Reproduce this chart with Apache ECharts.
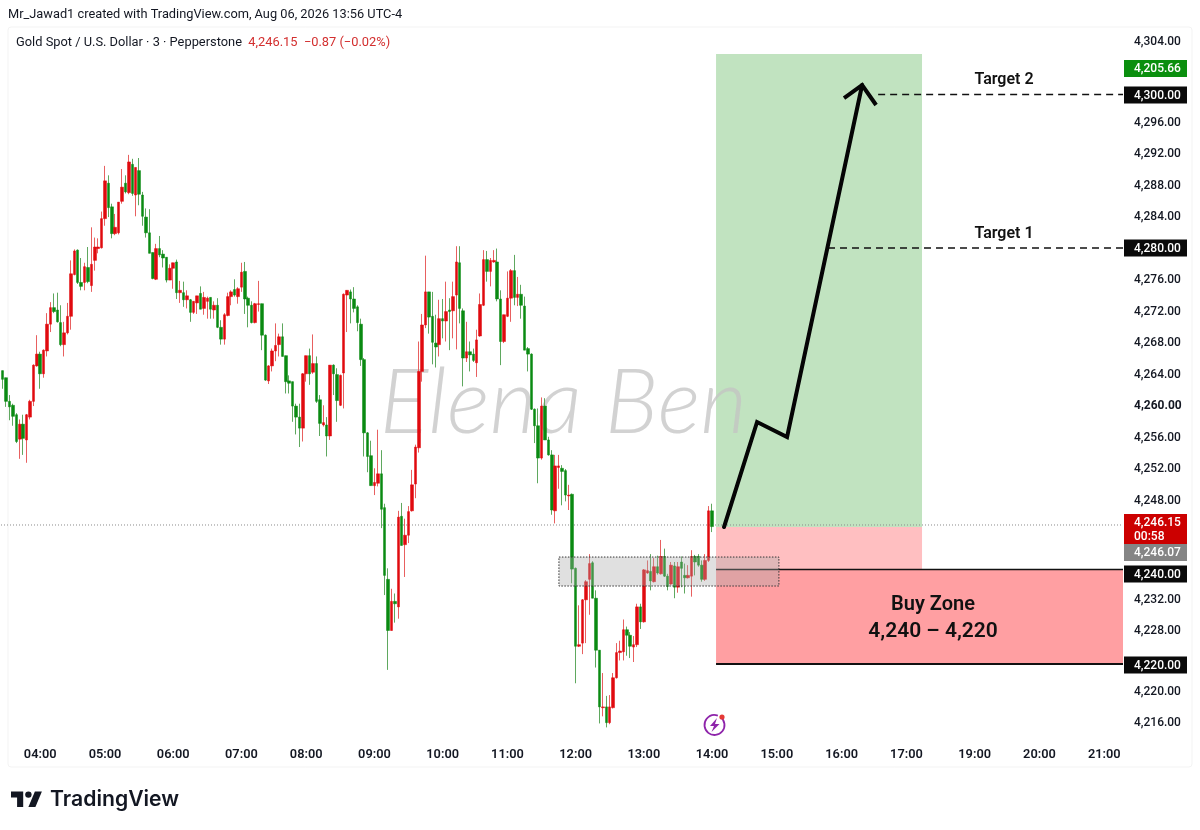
<!DOCTYPE html>
<html><head><meta charset="utf-8">
<style>html,body{margin:0;padding:0;background:#fff}#c{width:1200px;height:830px}</style>
<script src="https://cdn.jsdelivr.net/npm/echarts@6/dist/echarts.min.js"></script>
</head><body><div id="c"></div>
<script>
// 3-minute gold candles
const opens=[4264.3,4263.4,4260.4,4259.9,4258.7,4255.6,4257.5,4255.5,4258.4,4260.4,
4264.9,4266.4,4263.9,4266.8,4270.2,4272.3,4272.0,4270.4,4267.6,4269.1,
4271.2,4276.5,4279.6,4275.5,4275.5,4277.4,4275.1,4278.3,4279.8,4279.9,
4283.6,4288.1,4285.1,4281.7,4281.8,4285.8,4288.1,4286.9,4290.5,4286.6,
4289.7,4286.6,4283.8,4281.8,4279.3,4275.9,4279.8,4279.1,4278.7,4275.8,
4277.3,4278.1,4274.2,4274.2,4273.3,4273.3,4271.7,4272.9,4274.1,4272.2,
4273.1,4273.6,4272.0,4272.6,4269.8,4268.3,4271.3,4273.7,4274.6,4273.7,
4274.9,4276.9,4273.5,4272.6,4270.4,4272.7,4272.8,4268.8,4263.0,4264.9,
4266.8,4267.6,4268.6,4266.2,4263.0,4262.9,4259.8,4258.4,4257.0,4263.9,
4266.2,4264.1,4265.2,4260.6,4257.4,4257.4,4256.0,4265.0,4263.8,4259.9,
4264.0,4273.9,4274.3,4273.4,4272.4,4270.2,4265.7,4256.4,4253.5,4249.7,
4250.0,4251.2,4246.9,4237.8,4231.3,4235.0,4234.3,4245.8,4242.2,4243.4,
4246.5,4249.9,4254.5,4264.2,4270.1,4274.3,4271.2,4267.8,4267.6,4270.9,
4270.6,4272.0,4271.9,4273.9,4278.0,4271.9,4265.9,4266.7,4266.4,4265.3,
4268.7,4272.6,4278.4,4276.9,4278.1,4278.1,4273.4,4268.0,4271.2,4273.5,
4277.0,4273.6,4274.0,4272.5,4267.1,4266.4,4259.4,4257.3,4253.2,4259.8,
4255.5,4253.6,4246.5,4252.0,4251.9,4251.6,4248.4,4248.6,4239.2,4229.3,
4229.7,4235.2,4237.8,4239.9,4235.4,4228.8,4221.5,4221.6,4219.6,4221.5,
4225.3,4228.5,4228.6,4231.4,4230.7,4229.2,4229.5,4234.3,4232.4,4238.6,
4238.8,4237.5,4239.4,4238.5,4240.7,4238.2,4237.2,4239.5,4236.8,4240.0,
4238.3,4238.0,4238.2,4240.7,4240.7,4239.6,4237.8,4240.2,4246.5];
const highs=[4264.3,4263.4,4261.2,4260.1,4258.9,4258.1,4258.7,4258.8,4260.6,4265.1,
4268.8,4266.7,4267.0,4271.6,4273.0,4274.1,4274.2,4272.6,4270.5,4272.9,
4278.3,4279.7,4279.7,4278.6,4278.0,4280.0,4282.5,4281.2,4281.1,4284.5,
4290.3,4289.1,4285.5,4284.2,4285.7,4289.9,4289.1,4291.7,4291.2,4290.1,
4291.3,4287.0,4284.9,4284.8,4279.3,4280.4,4281.4,4279.6,4278.7,4277.8,
4278.0,4278.4,4275.7,4275.6,4274.5,4273.4,4273.1,4273.8,4275.0,4274.3,
4273.7,4273.6,4273.1,4273.5,4270.7,4271.6,4274.2,4274.5,4275.9,4274.9,
4278.0,4278.1,4273.7,4273.1,4272.9,4275.7,4272.8,4268.9,4265.0,4267.1,
4270.3,4269.0,4270.3,4266.2,4263.7,4262.9,4260.1,4260.1,4264.0,4266.2,
4267.1,4268.9,4266.1,4261.2,4259.9,4258.4,4265.0,4265.1,4264.6,4263.8,
4274.1,4274.5,4274.6,4274.9,4272.6,4270.9,4265.9,4256.5,4255.4,4251.9,
4256.8,4254.2,4247.4,4239.2,4236.6,4236.0,4246.5,4247.5,4245.5,4247.1,
4251.7,4254.9,4268.0,4271.5,4278.9,4274.3,4274.3,4271.4,4273.3,4273.4,
4275.6,4273.5,4275.6,4280.1,4280.1,4272.2,4270.5,4268.0,4267.1,4269.5,
4274.1,4279.6,4279.5,4278.6,4279.6,4279.8,4274.5,4271.4,4276.9,4277.2,
4279.0,4276.2,4275.2,4273.7,4267.3,4266.5,4259.5,4259.5,4260.9,4260.8,
4255.9,4254.2,4253.6,4253.6,4252.3,4251.8,4249.8,4248.7,4239.3,4234.5,
4235.3,4237.7,4241.0,4240.1,4236.4,4228.8,4225.9,4223.0,4223.1,4225.9,
4229.7,4230.0,4232.7,4231.8,4231.1,4230.6,4234.7,4234.7,4239.1,4240.2,
4241.0,4240.5,4240.8,4242.8,4241.7,4238.5,4240.0,4240.0,4240.0,4240.7,
4239.8,4239.6,4241.5,4240.9,4241.0,4240.2,4241.0,4247.1,4247.4];
const lows=[4262.0,4259.7,4258.0,4257.3,4255.1,4253.1,4253.6,4252.6,4258.1,4259.8,
4264.8,4262.0,4263.4,4266.1,4269.2,4271.6,4270.4,4267.4,4266.1,4268.9,
4269.5,4276.4,4275.3,4274.5,4274.5,4275.4,4274.3,4277.0,4279.2,4279.8,
4282.7,4283.8,4281.1,4281.5,4281.6,4285.5,4286.8,4286.7,4286.5,4283.9,
4285.3,4282.7,4281.2,4279.2,4275.9,4275.8,4278.7,4277.4,4275.5,4275.8,
4274.7,4273.4,4272.9,4272.4,4272.2,4270.5,4271.5,4271.5,4272.1,4271.4,
4270.9,4270.9,4270.9,4269.7,4267.6,4267.6,4271.2,4272.6,4273.7,4272.8,
4274.3,4271.5,4269.8,4270.3,4270.3,4271.8,4266.9,4263.0,4262.6,4264.2,
4265.5,4266.1,4266.1,4261.4,4261.4,4257.8,4256.2,4254.6,4255.3,4262.9,
4262.5,4263.9,4260.2,4256.0,4257.2,4253.4,4255.5,4261.2,4257.8,4259.8,
4259.5,4269.2,4270.3,4271.7,4269.3,4264.9,4253.4,4251.4,4249.7,4248.5,
4249.6,4244.3,4235.8,4226.3,4231.3,4232.3,4232.8,4242.1,4238.1,4242.4,
4246.4,4248.1,4253.9,4262.9,4269.7,4269.0,4265.1,4264.7,4266.1,4268.4,
4268.0,4266.9,4268.4,4267.0,4270.3,4262.3,4265.4,4264.2,4265.4,4263.5,
4268.6,4272.5,4275.6,4275.0,4278.0,4273.1,4265.0,4267.8,4271.1,4270.5,
4272.6,4272.5,4270.9,4266.9,4264.2,4259.3,4255.1,4250.0,4253.0,4255.5,
4253.5,4246.0,4244.9,4249.3,4247.2,4247.7,4246.6,4237.3,4224.6,4229.2,
4228.3,4229.7,4233.3,4235.4,4226.6,4219.5,4220.4,4219.0,4219.4,4221.4,
4225.2,4227.5,4227.5,4228.1,4227.8,4227.3,4229.2,4231.5,4232.3,4238.5,
4236.4,4237.4,4238.4,4238.4,4238.1,4236.4,4237.1,4235.4,4236.1,4236.8,
4236.0,4237.9,4235.6,4238.3,4239.4,4237.5,4237.6,4240.0,4243.8];
const closes=[4263.2,4260.4,4259.7,4258.5,4255.3,4257.5,4255.7,4258.7,4260.4,4265.0,
4266.4,4263.9,4266.9,4270.2,4272.3,4271.8,4270.5,4267.6,4269.1,4271.2,
4276.6,4279.5,4275.5,4275.0,4277.5,4275.6,4277.8,4280.0,4280.0,4283.6,
4288.4,4285.0,4281.7,4282.5,4285.7,4287.6,4287.0,4290.8,4286.8,4290.1,
4286.7,4283.9,4281.8,4279.2,4276.0,4279.8,4279.0,4278.6,4275.8,4277.3,
4278.0,4274.2,4274.5,4273.3,4273.8,4271.7,4273.1,4273.8,4272.1,4273.6,
4273.5,4272.1,4272.6,4269.8,4268.3,4271.4,4273.7,4274.3,4273.9,4274.7,
4276.8,4273.4,4272.6,4270.4,4272.8,4272.8,4268.8,4263.1,4264.9,4266.8,
4267.5,4268.6,4266.1,4262.9,4262.7,4259.8,4258.4,4257.0,4263.9,4266.2,
4263.9,4265.2,4260.4,4257.6,4257.7,4256.0,4265.0,4263.9,4260.5,4263.7,
4274.0,4274.5,4273.4,4272.2,4270.4,4265.7,4256.4,4253.4,4249.7,4250.1,
4251.2,4246.7,4238.3,4231.3,4235.0,4234.7,4245.7,4242.1,4243.4,4246.4,
4249.8,4254.6,4264.2,4270.1,4274.3,4271.1,4267.9,4267.3,4270.9,4270.6,
4271.8,4271.8,4273.7,4278.1,4272.2,4265.9,4266.7,4266.3,4265.6,4268.2,
4272.7,4278.4,4276.9,4278.3,4278.3,4273.4,4268.0,4271.4,4273.5,4277.0,
4273.6,4274.0,4272.6,4266.9,4266.4,4259.4,4257.3,4253.2,4259.8,4255.5,
4253.6,4246.6,4252.2,4252.2,4251.5,4248.5,4248.5,4239.1,4229.3,4229.5,
4235.2,4237.5,4239.8,4235.4,4228.8,4221.6,4221.6,4219.6,4221.6,4225.3,
4228.5,4228.7,4231.4,4230.7,4229.3,4229.5,4234.3,4232.4,4239.0,4238.9,
4237.6,4239.4,4238.6,4240.7,4238.2,4236.9,4239.6,4236.8,4239.4,4239.2,
4238.0,4238.3,4240.7,4240.0,4239.6,4237.8,4240.2,4246.5,4244.5];

// time axis: hour labels and the number of bar slots each hour takes on the picture
const hourLabels=['04:00','05:00','06:00','07:00','08:00','09:00','10:00','11:00','12:00','13:00','14:00','15:00','16:00','17:00','19:00','20:00','21:00'];
const barsPerHour=[19,20,20,19,20,20,19,20,20,20,19,19,19,20,19,19,6];
const leadSlots=['03:27','03:30','03:33','03:36','03:39','03:42','03:45','03:48','03:51','03:54','03:57'];

// right-hand price scale (the reference's scale is not linear over its whole height:
// upper labels, lower labels and the drawing tags each sit on their own levels)
const upperTickMin=4248, upperTickMax=4296, boldTick=4260;
const lowerTicks=[4216,4220,4228,4232];
const tagTexts=['4,304.00','4,205.66','4,300.00','4,280.00','4,246.15\n00:58','4,246.07','4,240.00','4,220.00'];
const tagLevels=[4306.16,4302.67,4299.30,4279.87,4244.19,4241.21,4238.48,4226.92];
const tagFills=['none','#0a8f0e','#0a0a0a','#0a0a0a','#cc0000','#858585','#0a0a0a','#0a0a0a'];

// drawings, as [slot from, slot to, level top, level bottom]
const profitZone=[209.67,270.07,4304.51,4244.44];
const riskZone=[209.67,270.07,4244.44,4239.05];
const buyZone=[209.67,329,4239.05,4227.05];
const baseBox=[163.6,228.1,4240.63,4236.95];
const lastPriceLevel=4244.70;
const target1=[242.5,329,4279.87];
const target2=[257.2,329,4299.37];
const arrowSlots=[212.0,221.7,230.5,252.5];
const arrowLevels=[4244.44,4257.78,4255.87,4300.57];
const headSlots=[247.2,252.5,256.6];
const headLevels=[4298.92,4300.57,4298.03];

const categories=leadSlots.slice();
hourLabels.forEach((h,k)=>{for(let j=0;j<barsPerHour[k];j++){
  categories.push(j===0?h:h.slice(0,3)+String(j*3).padStart(2,'0'));}});
const wickData=opens.map((o,i)=>[o,closes[i],lows[i],highs[i]]);
const bodyData=opens.map((o,i)=>[o,closes[i],Math.min(o,closes[i]),Math.max(o,closes[i])]);

const FONT='Roboto';
function zoneSeries(name,rows,fill,stroke,z,extra){
  return {name,type:'custom',xAxisIndex:1,yAxisIndex:0,z,silent:true,encode:{x:[0,1],y:[2,3]},
    data:rows,renderItem(p,api){
      const a=api.coord([api.value(0),api.value(2)]),b=api.coord([api.value(1),api.value(3)]);
      return {type:'rect',shape:{x:a[0],y:a[1],width:b[0]-a[0],height:b[1]-a[1]},
        style:Object.assign({fill,stroke:stroke||null,lineWidth:stroke?1:0},extra||{})};
    }};
}
function lineSeries(name,xs,ys,style,z){
  return {name,type:'line',xAxisIndex:1,yAxisIndex:0,symbol:'none',silent:true,z,
    data:xs.map((x,i)=>[x,ys[i]]),lineStyle:style,animation:false};
}
const annotationTexts=[
 {t:'Elena Ben',x:111,y:4260.1,size:91,weight:300,color:'rgba(195,195,195,0.75)',family:'Lato',style:'italic'},
 {t:'Target 2',x:294.1,y:4301.2,size:16,weight:600,color:'#111'},
 {t:'Target 1',x:294.1,y:4281.6,size:16,weight:600,color:'#111'},
 {t:'Buy Zone',x:273.3,y:4234.6,size:20,weight:600,color:'#111'},
 {t:'4,240 \u2013 4,220',x:273.3,y:4231.1,size:21,weight:600,color:'#111'}
];
function textSeries(items,z){
  return {name:'notes',type:'custom',xAxisIndex:1,yAxisIndex:0,z,silent:true,encode:{x:0,y:1},
   data:items.map(a=>[a.x,a.y]),renderItem(p,api){
    const a=items[p.dataIndex],c=api.coord([api.value(0),api.value(1)]);
    return {type:'text',style:{text:a.t,x:c[0],y:c[1],fill:a.color,fontSize:a.size,fontWeight:a.weight,
      fontStyle:a.style||'normal',fontFamily:a.family||FONT,align:a.family?'left':'center',verticalAlign:'middle'}};
   }};
}

const chart=echarts.init(document.getElementById('c'),null,{renderer:'canvas'});
chart.setOption({
 animation:false,backgroundColor:'#ffffff',
 title:[
  {text:'Mr_Jawad1 created with TradingView.com, Aug 06, 2026 13:56 UTC-4',left:8,top:8.5,padding:0,
   textStyle:{fontFamily:FONT,fontSize:12.8,fontWeight:'normal',color:'#131722'}},
  {text:'{a|Gold Spot / U.S. Dollar \u00b7 3 \u00b7 Pepperstone}{b|  4,246.15  \u22120.87 (\u22120.02%)}',left:16,top:36.5,padding:0,
   textStyle:{fontWeight:'normal',rich:{a:{fontFamily:FONT,fontSize:12.85,fontWeight:'normal',color:'#131722'},b:{fontFamily:FONT,fontSize:12.85,fontWeight:'normal',color:'#d32f2f'}}}}
 ],
 grid:[{left:1,width:1122,top:26.5,height:756},{left:1,width:1122,top:569.25,height:184.5}],
 xAxis:[
  {type:'category',gridIndex:0,data:categories,boundaryGap:true,offset:-36,
   axisLine:{show:false},axisTick:{show:false},splitLine:{show:false},
   axisLabel:{margin:2,hideOverlap:false,interval:(i,v)=>hourLabels.includes(v),fontFamily:FONT,fontSize:12.8,fontWeight:600,color:'#131722'}},
  {type:'value',gridIndex:0,min:0,max:329,show:false},
  {type:'value',gridIndex:1,min:0,max:329,show:false}
 ],
 yAxis:[
  {type:'value',gridIndex:0,position:'right',min:4212,max:4308,interval:4,
   axisLine:{show:false},axisTick:{show:false},splitLine:{show:false},
   axisLabel:{margin:11,padding:[3,0,0,0],fontFamily:FONT,fontSize:12,fontWeight:500,color:'#131722',
    formatter:v=>{ if(v<upperTickMin||v>upperTickMax) return '';
      const s=v.toLocaleString('en-US',{minimumFractionDigits:2,maximumFractionDigits:2});
      return v===boldTick?'{b|'+s+'}':s;},
    rich:{b:{fontFamily:FONT,fontSize:12,fontWeight:'bold',color:'#131722'}}}},
  {type:'value',gridIndex:1,position:'right',min:4212,max:4236,interval:4,
   axisLine:{show:false},axisTick:{show:false},splitLine:{show:false},
   axisLabel:{margin:11,padding:[3,0,0,0],fontFamily:FONT,fontSize:12,fontWeight:500,color:'#131722',
    formatter:v=>lowerTicks.includes(v)?v.toLocaleString('en-US',{minimumFractionDigits:2,maximumFractionDigits:2}):''}}
 ],
 series:[
  zoneSeries('profit',[profitZone],'#c1e3c0',null,1),
  zoneSeries('risk',[riskZone],'#ffbfc1',null,1),
  zoneSeries('buy',[buyZone],'#ff9fa2',null,1),
  textSeries(annotationTexts.slice(0,1),2),
  lineSeries('buy top',[buyZone[0],buyZone[1]],[buyZone[2],buyZone[2]],{color:'#111',width:1.6},2),
  lineSeries('buy bottom',[buyZone[0],buyZone[1]],[buyZone[3],buyZone[3]],{color:'#111',width:1.8},2),
  lineSeries('last',[0,329],[lastPriceLevel,lastPriceLevel],{color:'#8a8a8a',width:1,type:[1,2]},2),
  {name:'wicks',type:'candlestick',xAxisIndex:0,yAxisIndex:0,data:wickData,barWidth:1,z:3,silent:true,
   itemStyle:{color:'#e35555',color0:'#5aa65a',borderColor:'#e86060',borderColor0:'#5fa85f',borderWidth:1}},
  {name:'bodies',type:'candlestick',xAxisIndex:0,yAxisIndex:0,data:bodyData,barWidth:3,z:3,silent:true,
   itemStyle:{color:'#e00a0f',color0:'#0a8a12',borderColor:'#e00a0f',borderColor0:'#0a8a12',borderWidth:0.5}},
  zoneSeries('base',[baseBox],'rgba(170,170,170,0.36)','#333',4,{lineDash:[1.5,1.5]}),
  lineSeries('target 1',[target1[0],target1[1]],[target1[2],target1[2]],{color:'#111',width:1.5,type:[7,5]},5),
  lineSeries('target 2',[target2[0],target2[1]],[target2[2],target2[2]],{color:'#111',width:1.5,type:[7,5]},5),
  lineSeries('arrow',arrowSlots,arrowLevels,{color:'#050505',width:4,cap:'round',join:'miter'},6),
  lineSeries('head',headSlots,headLevels,{color:'#050505',width:4,cap:'butt',join:'miter'},6),
  textSeries(annotationTexts.slice(1),7),
  {name:'tags',type:'custom',xAxisIndex:1,yAxisIndex:0,z:8,silent:true,encode:{x:0,y:1},
   data:tagLevels.map(l=>[329,l]),renderItem(p,api){
     const c=api.coord([329,api.value(1)]),i=p.dataIndex,two=tagTexts[i].includes('\n'),h=two?30:17;
     const children=[];
     if(tagFills[i]!=='none') children.push({type:'rect',shape:{x:c[0]+1,y:c[1]-h/2,width:63,height:h},style:{fill:tagFills[i]}});
     children.push({type:'text',style:{text:tagTexts[i],x:c[0]+11,y:c[1]+1,fill:tagFills[i]==='none'?'#131722':'#fff',
       fontFamily:FONT,fontSize:12,fontWeight:500,lineHeight:14,align:'left',verticalAlign:'middle'}});
     return {type:'group',children};
   }}
 ],
 graphic:[
  {type:'rect',silent:true,z:-1,shape:{x:8,y:27,width:1184,height:740,r:3},style:{fill:'none',stroke:'#f3f3f3',lineWidth:1}},
  {type:'polygon',silent:true,shape:{points:[[11,791.5],[23.2,791.5],[23.2,807.1],[17.1,807.1],[17.1,797.6],[11,797.6]]},style:{fill:'#131722'}},
  {type:'polygon',silent:true,shape:{points:[[34.9,791.5],[41.9,791.5],[35.4,807.1],[28.4,807.1]]},style:{fill:'#131722'}},
  {type:'circle',silent:true,shape:{cx:28.4,cy:794.6,r:3.2},style:{fill:'#131722'}},
  {type:'text',silent:true,x:50,y:800,style:{text:'TradingView',fontFamily:'Inter',fontSize:21.2,fontWeight:600,fill:'#131722',verticalAlign:'middle'}},
  {type:'arc',silent:true,shape:{cx:714.5,cy:725,r:10,startAngle:-0.9,endAngle:-1.1+6.28*0.98,clockwise:true},style:{fill:'none',stroke:'#8e24aa',lineWidth:1.8}},
  {type:'polygon',silent:true,shape:{points:[[717,718],[710,726],[714,726],[711.5,732],[719.5,724],[715,724]]},style:{fill:'#8e24aa'}},
  {type:'circle',silent:true,shape:{cx:722,cy:717,r:2.6},style:{fill:'#e53935'}}
 ]
});
</script></body></html>
